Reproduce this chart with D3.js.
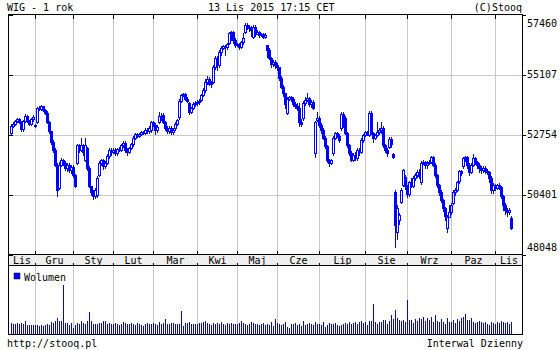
<!DOCTYPE html>
<html><head><meta charset="utf-8">
<script src="https://cdn.jsdelivr.net/npm/d3@7"></script>
<style>
body{margin:0;background:#fff}
svg{display:block}
text{font-family:"DejaVu Sans Mono","Liberation Mono",monospace;font-size:10px;fill:#000}
</style>
</head><body>
<svg id="chart" width="560" height="350"></svg>
<script>
// ---------- texts ----------
const title = "WIG - 1 rok";
const stamp = "13 Lis 2015 17:15 CET";
const credit = "(C)Stooq";
const sourceText = "http://stooq.pl";
const intervalText = "Interwal Dzienny";
const volumeLabel = "Wolumen";
const monthLabels = ["Lis","Gru","Sty","Lut","Mar","Kwi","Maj","Cze","Lip","Sie","Wrz","Paz","Lis"];
const yTicks = [48048, 50401, 52754, 55107, 57460];

// ---------- trading calendar ----------
const startDate = "2014-11-13", endDate = "2015-11-13";
const holidays = ["2014-12-24","2014-12-25","2014-12-26","2014-12-31","2015-01-01","2015-01-06",
  "2015-04-03","2015-04-06","2015-05-01","2015-06-04","2015-11-11"];

// ---------- daily OHLC (index points) ----------
const open = [
52790,53070,53150,53260,53340,53230,52950,53260,53460,53260,
53150,53340,53110,53230,53770,53740,53850,53700,53580,53230,
52870,52440,52130,51540,50640,51540,51730,51620,51420,51540,
51340,51460,51150,51620,52320,52130,52320,51730,52210,51420,
50720,50480,50320,50360,51150,51620,51730,51500,51620,51890,
52130,52050,52130,52010,52170,52130,52320,52400,52130,52050,
52210,52360,52600,52750,52680,52750,52830,52790,52910,52870,
52910,53230,53110,52910,53230,53460,53500,53230,52990,52870,
52990,52830,52990,53150,53420,54050,54280,54320,54130,53970,
53620,53770,53930,53970,54010,54090,54280,54480,54790,54910,
54720,54790,55380,55740,55460,55970,56130,56210,56170,56320,
56720,56750,56440,56250,56280,56170,56360,56750,57030,56950,
56910,56560,56950,56680,56750,56640,56680,56560,56250,56050,
55740,55500,55580,55460,55380,54950,54600,54360,53580,54130,
54210,54130,53930,53850,53770,53230,53380,53970,54090,54170,
53930,54010,52010,53300,53380,53110,52910,52600,52280,51730,
51620,52010,52600,52790,52680,52990,53540,53380,52790,52320,
52010,51730,51930,51810,52130,52050,52520,52720,52830,52720,
53580,52790,52600,52720,52830,52910,52990,52320,52130,52240,
52560,51970,50480,48910,49380,50090,50750,51070,50720,50400,
50870,50720,51030,51150,51260,50870,51620,51660,51540,51620,
51660,51850,51540,51150,50750,50480,50170,49850,49070,49500,
49700,50050,50480,50560,50910,51300,51500,51810,51850,51540,
51260,51540,51810,51660,51540,51420,51340,51420,51300,51260,
51030,50560,50750,50640,50750,50680,50320,49970,49770,49700,
49460];
const high = [
53150,53230,53340,53420,53420,53300,53340,53540,53500,53340,
53420,53500,53150,53850,53890,53930,53890,53770,53660,53300,
52910,52520,52210,51620,51660,51850,51810,51700,51620,51620,
51540,51540,51220,52400,52400,52600,52400,52600,52280,51500,
50750,50560,50640,51110,51700,51810,51810,51700,51970,52210,
52210,52240,52210,52240,52280,52400,52480,52480,52210,52280,
52440,52680,52830,52830,52830,52910,52910,52990,52990,53070,
53300,53300,53190,53110,53620,53580,53580,53300,53070,53070,
53070,52990,53230,53380,54130,54360,54400,54400,54210,54010,
53850,54010,54050,54090,54130,54360,54560,54950,55030,54990,
54870,55460,55850,55850,56050,56210,56280,56280,56360,56790,
56830,56830,56520,56360,56360,56440,56720,57110,57110,57030,
56990,57030,57030,56870,56830,56750,56750,56720,56280,56130,
55810,55660,55660,55540,55420,55030,54680,54400,54210,54280,
54280,54210,54010,53970,53970,53380,54050,54210,54400,54240,
54090,54090,53300,53620,53460,53190,52990,52680,52360,51810,
51810,52680,52870,52870,52790,53620,53620,53460,52870,52400,
52090,52010,52050,52210,52240,52600,52790,52910,52910,53660,
53660,52870,52790,53230,52990,53230,53070,52400,52240,52640,
52640,52010,50560,49970,49660,50640,51420,51150,50790,50950,
51030,51110,51260,51380,51420,51700,51770,51730,51730,51770,
51930,51930,51620,51220,50830,50560,50240,49930,49580,49970,
50050,50560,50640,50950,51380,51380,51890,51930,51930,51620,
51620,51970,51890,51730,51620,51500,51500,51500,51420,51340,
51110,50870,50830,50830,50870,50750,50400,50050,49890,49890,
49540];
const low = [
52720,52990,53070,53190,53150,52870,52870,53190,53190,53070,
53070,53260,52990,53150,53660,53660,53620,53500,53150,52790,
52360,52010,51460,50320,50560,51460,51500,51340,51300,51260,
51220,51030,50640,51540,52010,52050,51930,51660,51340,50640,
50360,50170,50240,50280,51070,51500,51380,51420,51540,51810,
51930,51970,51930,51930,52050,52050,52240,52010,51930,51970,
52130,52280,52520,52600,52600,52680,52720,52720,52790,52790,
52830,53030,52720,52830,53150,53300,53150,52910,52790,52790,
52750,52750,52910,53070,53340,53970,54210,54050,53970,53500,
53540,53700,53850,53890,53930,54010,54210,54400,54680,54640,
54560,54720,55300,55260,55380,55850,56050,55850,56050,56250,
56440,56320,56130,56170,56050,56090,56280,56680,56870,56790,
56560,56480,56560,56640,56520,56560,56480,56480,55740,55660,
55380,55420,55340,55260,54870,54520,54240,53770,53500,54050,
54010,53850,53740,53660,53030,53030,53300,53890,54010,53850,
53810,53700,51850,53230,52990,52790,52520,52170,51620,51460,
51540,51930,52520,52600,52440,52910,52990,52720,52210,51930,
51660,51660,51730,51730,51930,51970,52440,52640,52680,52640,
52720,52440,52520,52640,52750,52790,52210,52010,51890,52170,
52240,51810,48320,48600,49220,50010,50680,50560,50280,50320,
50640,50640,50950,51030,50990,50790,51540,51420,51420,51540,
51580,51460,51030,50640,50360,50050,49700,49380,48910,49460,
49580,49970,50360,50480,50830,51110,51420,51660,51420,51110,
51190,51460,51540,51420,51260,51220,51260,51190,51150,50870,
50440,50440,50520,50560,50560,50240,49770,49580,49500,49580,
48990];
const close = [
53070,53150,53260,53340,53230,52950,53260,53460,53260,53150,
53340,53420,53070,53770,53740,53850,53700,53580,53230,52870,
52440,52130,51540,50560,51540,51730,51620,51420,51540,51340,
51460,51150,50720,52320,52130,52320,52050,52320,51420,50720,
50480,50320,50560,51030,51620,51730,51500,51620,51890,52130,
52050,52130,52010,52170,52130,52320,52400,52130,52050,52210,
52360,52600,52750,52680,52750,52830,52790,52910,52870,52990,
53230,53110,52910,53030,53460,53380,53230,52990,52870,52990,
52830,52910,53150,53300,54050,54280,54320,54130,54050,53620,
53770,53930,53970,54010,54050,54280,54480,54790,54910,54720,
54750,55380,55740,55460,55970,56130,56210,56170,56280,56720,
56750,56440,56250,56280,56170,56360,56520,57030,56950,56910,
56830,56950,56680,56750,56640,56680,56560,56640,56050,55740,
55500,55580,55460,55380,54950,54600,54360,53930,54130,54210,
54130,53930,53850,53770,53230,53150,53970,54090,54170,53930,
54010,53770,53230,53380,53110,52910,52600,52280,51730,51620,
51730,52600,52790,52680,52520,53540,53380,52790,52320,52010,
51730,51930,51810,52130,52050,52520,52720,52830,52750,53580,
52790,52600,52720,52830,52910,52990,52320,52130,52010,52560,
52360,51850,49190,49850,49580,50560,51340,50720,50400,50870,
50720,51030,51150,51260,51110,51620,51660,51540,51620,51660,
51850,51540,51150,50750,50480,50170,49850,49540,49500,49700,
49970,50480,50560,50870,51300,51220,51810,51850,51540,51260,
51540,51810,51660,51540,51420,51340,51420,51300,51260,51030,
50560,50750,50640,50750,50680,50320,49970,49770,49700,49770,
49070];
const volume = [
1100,1050,1000,1100,1000,1100,1000,1300,900,900,900,900,
900,870,800,870,800,900,1000,870,1230,1130,
1300,1570,1300,1300,4900,1070,1100,900,1070,
630,900,1130,1000,1300,1070,1000,1300,2200,1300,1000,1000,1000,1070,1070,1300,1300,1000,1070,1000,
1000,1100,1000,900,1000,1200,1100,1000,1000,1100,1000,900,1100,1000,900,800,1000,1100,1000,1000,
1100,1000,900,1200,1000,1100,1500,1000,1000,1100,1100,1000,1000,1000,2300,800,1100,1100,1200,1000,1000,1000,
1000,1100,1100,1200,1300,1100,1000,900,1100,1000,1100,1000,1200,1000,900,1100,1000,1100,1000,1000,
1000,1100,1300,1100,1000,900,1000,1200,1100,1000,1000,900,1000,1100,900,1000,900,1200,800,1500,
1100,1000,900,1000,1200,700,600,1000,1000,1100,900,1000,800,1300,900,1000,1100,1000,900,1200,1000,
1000,900,1200,700,900,1100,1000,1000,1100,900,800,900,1000,1100,1000,1200,1000,1100,1200,1000,1200,1300,1100,
1200,900,1300,1300,3000,1200,1000,1200,1200,1400,1400,1000,1300,1900,1500,2400,1600,1400,1300,1400,1200,
3400,1400,1400,1100,1500,1300,1600,1500,1700,1300,1600,1400,1700,1200,1900,1300,1200,1500,1200,1000,1600,1200,
1200,1400,1100,1500,1300,1600,1700,2000,1400,1400,1600,1200,1100,1200,1300,1200,1100,1200,1000,900,1200,1100,
1000,1200,1100,1300,1200,1100,1200,1000,1200];

// ---------- build dates ----------
const fmt = d3.utcFormat("%Y-%m-%d");
const dates = [];
for (let d = new Date(startDate + "T00:00:00Z"); fmt(d) <= endDate; d = new Date(d.getTime() + 86400000)) {
  const wd = d.getUTCDay();
  if (wd === 0 || wd === 6) continue;
  if (holidays.includes(fmt(d))) continue;
  dates.push(fmt(d));
}
const n = Math.min(dates.length, open.length, high.length, low.length, close.length, volume.length);
const data = d3.range(n).map(i => ({date: dates[i], o: open[i], h: high[i], l: low[i], c: close[i], v: volume[i]}));

// ---------- layout ----------
const L = 8.5, R = 522.5, T = 14.5, PB = 254.5, BB = 265.5, VB = 334.5;
const blue = "#0000ff", grid = "#c8c8c8";
const svg = d3.select("#chart");

const x = d3.scalePoint().domain(data.map(d => d.date)).range([11.5, 511.5]);
const y = d3.scaleLinear().domain([yTicks[0], yTicks[yTicks.length - 1]]).range([PB, T]);
const yv = d3.scaleLinear().domain([0, d3.max(data, d => d.v)]).range([334, 285]);

// month boundaries (first trading day of each new month)
const bounds = [];
data.forEach((d, i) => { if (i > 0 && d.date.slice(0, 7) !== data[i - 1].date.slice(0, 7)) bounds.push(x(d.date)); });

// band background
svg.append("rect").attr("x", L).attr("y", PB).attr("width", R - L).attr("height", BB - PB).attr("fill", "#eeeeee");

// gridlines
const g = svg.append("g").attr("shape-rendering", "crispEdges");
yTicks.slice(1, -1).forEach(t => {
  g.append("line").attr("x1", L).attr("x2", R).attr("y1", Math.round(y(t)) + 0.5).attr("y2", Math.round(y(t)) + 0.5).attr("stroke", grid);
});
bounds.forEach(bx => {
  g.append("line").attr("x1", bx).attr("x2", bx).attr("y1", T).attr("y2", PB).attr("stroke", grid);
  g.append("line").attr("x1", bx).attr("x2", bx).attr("y1", BB).attr("y2", VB).attr("stroke", grid);
  // ticks
  g.append("line").attr("x1", bx).attr("x2", bx).attr("y1", T).attr("y2", T + 4).attr("stroke", "#000");
  g.append("line").attr("x1", bx).attr("x2", bx).attr("y1", PB - 4).attr("y2", PB).attr("stroke", "#000");
  g.append("line").attr("x1", bx).attr("x2", bx).attr("y1", BB - 3).attr("y2", BB).attr("stroke", "#000");
});
yTicks.forEach(t => {
  const yy = Math.round(y(t)) + 0.5;
  g.append("line").attr("x1", L).attr("x2", L + 4).attr("y1", yy).attr("y2", yy).attr("stroke", "#000");
  g.append("line").attr("x1", R).attr("x2", R + 3).attr("y1", yy).attr("y2", yy).attr("stroke", "#000");
});

// month labels
const edges = [L, ...bounds, R];
monthLabels.forEach((m, i) => {
  if (i + 1 >= edges.length) return;
  svg.append("text").attr("x", (edges[i] + edges[i + 1]) / 2).attr("y", 263.5).attr("text-anchor", "middle").text(m);
});

// y labels (right), end labels pulled inside
yTicks.forEach((t, i) => {
  let yy = y(t) + 3.6;
  if (i === yTicks.length - 1) yy = 27;
  if (i === 0) yy = 251;
  svg.append("text").attr("x", 527).attr("y", yy).text(d3.format("d")(t));
});

// candles
const cg = svg.append("g").attr("shape-rendering", "crispEdges");
data.forEach(d => {
  const cx = x(d.date);
  const yo = y(d.o), yc = y(d.c);
  const top = Math.min(yo, yc), bot = Math.max(yo, yc);
  const up = d.c > d.o;
  cg.append("line").attr("x1", cx).attr("x2", cx).attr("y1", y(d.h)).attr("y2", top).attr("stroke", blue);
  cg.append("line").attr("x1", cx).attr("x2", cx).attr("y1", bot).attr("y2", y(d.l)).attr("stroke", blue);
  cg.append("rect").attr("x", cx - 1).attr("y", top).attr("width", 2).attr("height", Math.max(bot - top, 1))
    .attr("fill", up ? "none" : blue).attr("stroke", blue).attr("stroke-width", 1);
});

// volume bars
const vg = svg.append("g").attr("shape-rendering", "crispEdges");
vg.selectAll("rect").data(data).join("rect")
  .attr("x", d => x(d.date) - 0.5).attr("y", d => yv(d.v)).attr("width", 1).attr("height", d => 334 - yv(d.v))
  .attr("fill", blue);

// frame
const fg = svg.append("g").attr("shape-rendering", "crispEdges");
fg.append("rect").attr("x", L).attr("y", T).attr("width", R - L).attr("height", VB - T).attr("fill", "none").attr("stroke", "#000");
fg.append("line").attr("x1", L).attr("x2", R).attr("y1", PB).attr("y2", PB).attr("stroke", "#000");
fg.append("line").attr("x1", L).attr("x2", R).attr("y1", BB).attr("y2", BB).attr("stroke", "#000");

// legend
svg.append("rect").attr("x", 14).attr("y", 273).attr("width", 6).attr("height", 6).attr("fill", blue).attr("stroke", "#000").attr("stroke-width", 0.5);
svg.append("text").attr("x", 24).attr("y", 280.5).text(volumeLabel);

// header & footer
svg.append("text").attr("x", 7).attr("y", 10.5).text(title);
svg.append("text").attr("x", 208).attr("y", 10.5).text(stamp);
svg.append("text").attr("x", 522).attr("y", 10.5).attr("text-anchor", "end").text(credit);
svg.append("text").attr("x", 7).attr("y", 346.5).text(sourceText);
svg.append("text").attr("x", 523).attr("y", 346.5).attr("text-anchor", "end").text(intervalText);
</script>
</body></html>
